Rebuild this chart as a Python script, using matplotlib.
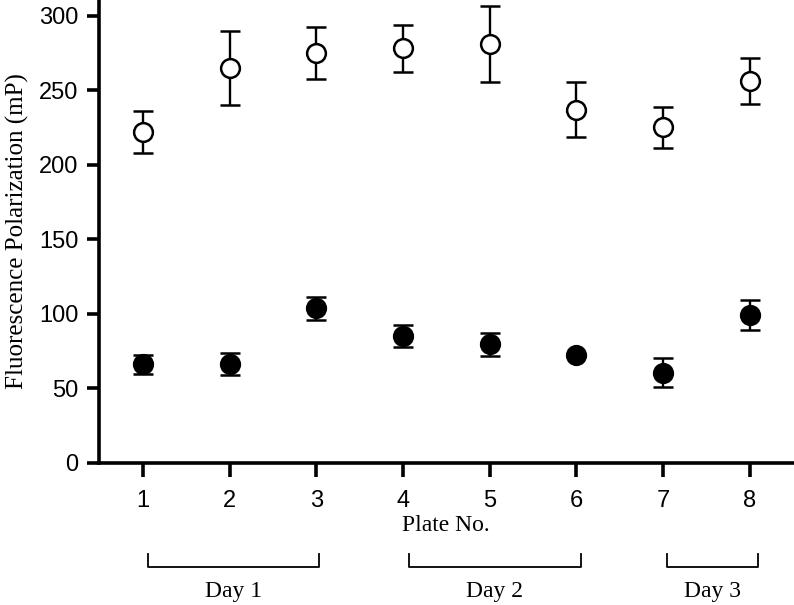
import matplotlib
matplotlib.use("Agg")
import matplotlib.pyplot as plt

plates = [1, 2, 3, 4, 5, 6, 7, 8]
open_mean = [222, 265, 275, 278, 281, 237, 225, 256]
open_err = [14, 25, 17.5, 16, 25.5, 18.5, 14, 15.5]
filled_mean = [66, 66.5, 103.5, 85, 79.5, 72, 60.5, 99]
filled_err = [6.6, 7.4, 7.8, 7.6, 7.8, 0, 9.5, 10]
yticks = [0, 50, 100, 150, 200, 250, 300]
day_labels = ["Day 1", "Day 2", "Day 3"]
day_start = [1.06, 4.07, 7.04]
day_end = [3.03, 6.05, 8.10]

fig = plt.figure(figsize=(7.94, 6.05), dpi=100)
ax = fig.add_axes([99/794, 142.3/605, 694/794, 462.7/605])

common = dict(fmt='o', ecolor='black', elinewidth=1.7, capsize=7, capthick=1.7,
              markersize=13.5, markeredgewidth=1.8, markeredgecolor='black',
              linestyle='none', clip_on=False, zorder=3)
ax.errorbar(plates, open_mean, yerr=open_err, markerfacecolor='white', **common)
ax.errorbar(plates, filled_mean, yerr=filled_err, markerfacecolor='black', **common)

ax.set_xlim(0.49, 8.5)
ax.set_ylim(0, 310.5)
ax.set_xticks(plates)
ax.set_yticks(yticks)
for s in ['top', 'right']:
    ax.spines[s].set_visible(False)
for s in ['left', 'bottom']:
    ax.spines[s].set_linewidth(2.6)
ax.tick_params(axis='y', length=9, width=2.6, pad=6, labelsize=17)
ax.tick_params(axis='x', length=10, width=2.6, pad=10, labelsize=17)
for lab in ax.get_xticklabels() + ax.get_yticklabels():
    lab.set_fontfamily('Liberation Sans')

ax.set_xlabel("Plate No.", fontfamily='Liberation Serif', fontsize=17, labelpad=2)
ax.set_ylabel("Fluorescence Polarization (mP)", fontfamily='Liberation Serif', fontsize=18, labelpad=7)

trans = ax.get_xaxis_transform()
for lab, x0, x1 in zip(day_labels, day_start, day_end):
    y_top = -0.198
    y_bot = -0.226
    ax.plot([x0, x0, x1, x1], [y_top, y_bot, y_bot, y_top], color='black', lw=1.3,
            transform=trans, clip_on=False)
    ax.text((x0 + x1) / 2, -0.255, lab, transform=trans, ha='center', va='top',
            fontfamily='Liberation Serif', fontsize=17)

fig.savefig("out.png", dpi=100)
